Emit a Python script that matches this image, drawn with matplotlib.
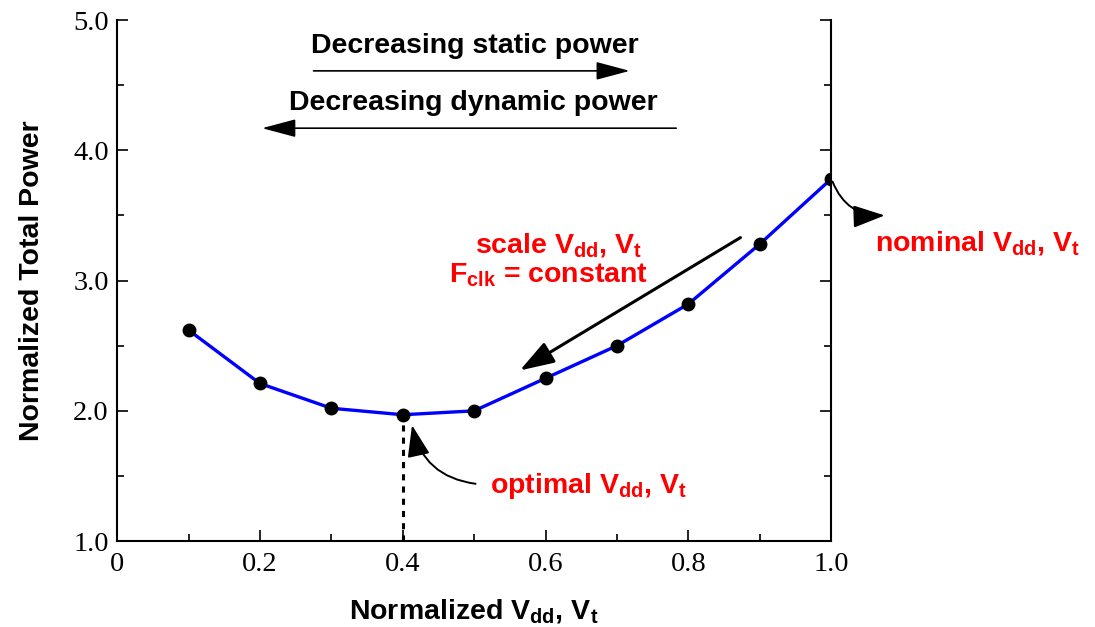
import matplotlib
matplotlib.use("Agg")
import matplotlib.pyplot as plt
from matplotlib.ticker import MultipleLocator

plt.rcParams['mathtext.fontset'] = 'custom'
plt.rcParams['mathtext.rm'] = 'Liberation Sans:bold'
plt.rcParams['mathtext.bf'] = 'Liberation Sans:bold'
plt.rcParams['mathtext.it'] = 'Liberation Sans:bold'
plt.rcParams['mathtext.default'] = 'bf'

vdd = [0.1, 0.2, 0.3, 0.4, 0.5, 0.6, 0.7, 0.8, 0.9, 1.0]
power = [2.62, 2.21, 2.02, 1.97, 2.00, 2.25, 2.50, 2.82, 3.28, 3.78]
xticks = [0, 0.2, 0.4, 0.6, 0.8, 1.0]
xticklabels = ['0', '0.2', '0.4', '0.6', '0.8', '1.0']
yticks = [1.0, 2.0, 3.0, 4.0, 5.0]
yticklabels = ['1.0', '2.0', '3.0', '4.0', '5.0']

FS = 20.5

fig = plt.figure(figsize=(10.95, 6.27), dpi=100)
ax = fig.add_axes([0.107, 0.137, 0.652, 0.831])

ax.plot(vdd, power, color='#0000ff', lw=2.4, zorder=2)
ax.plot(vdd, power, 'o', color='black', ms=9, zorder=3)

ax.set_xlim(0, 1.0)
ax.set_ylim(1.0, 5.0)
ax.set_xticks(xticks)
ax.set_xticklabels(xticklabels)
ax.set_yticks(yticks)
ax.set_yticklabels(yticklabels)
ax.xaxis.set_minor_locator(MultipleLocator(0.1))
ax.yaxis.set_minor_locator(MultipleLocator(0.5))
ax.tick_params(which='both', direction='in', right=True, top=False,
               labelsize=20.5, width=1.2)
ax.tick_params(which='major', length=8)
ax.tick_params(which='minor', length=5)
for lab in ax.get_xticklabels() + ax.get_yticklabels():
    lab.set_fontfamily('Liberation Serif')
ax.tick_params(axis='x', pad=8)
ax.tick_params(axis='y', pad=6)
ax.spines['top'].set_visible(False)
for s in ['left', 'bottom', 'right']:
    ax.spines[s].set_linewidth(1.5)

ax.set_xlabel(r'Normalized $V_{dd}$, $V_t$', fontsize=FS, fontweight='bold',
              family='Liberation Sans', labelpad=14)
ax.set_ylabel('Normalized Total Power', fontsize=FS, fontweight='bold',
              family='Liberation Sans', labelpad=20)

# dotted vertical at optimum
ax.plot([0.4, 0.4], [1.0, 1.97], color='black', lw=2.2, ls=(0, (2, 2)), zorder=1)

head = dict(color='black', shrinkA=0, shrinkB=0, mutation_scale=14)

# top arrows
ax.annotate('', xy=(0.718, 4.61), xytext=(0.275, 4.61),
            arrowprops=dict(arrowstyle='-|>,head_length=1.5,head_width=0.4', lw=1.2, **head))
ax.text(0.501, 4.80, 'Decreasing static power', fontsize=FS, fontweight='bold',
        family='Liberation Sans', ha='center', va='center')
ax.annotate('', xy=(0.203, 4.17), xytext=(0.783, 4.17),
            arrowprops=dict(arrowstyle='-|>,head_length=1.5,head_width=0.4', lw=1.2, **head))
ax.text(0.499, 4.36, 'Decreasing dynamic power', fontsize=FS, fontweight='bold',
        family='Liberation Sans', ha='center', va='center')

# scaling arrow
ax.annotate('', xy=(0.564, 2.31), xytext=(0.873, 3.33),
            arrowprops=dict(arrowstyle='-|>,head_length=1.5,head_width=0.5', lw=2.2, **head))
ax.text(0.618, 3.27, r'scale $V_{dd}$, $V_t$', fontsize=FS, color='#ff0000',
        fontweight='bold', family='Liberation Sans', ha='center', va='center')
ax.text(0.604, 3.04, r'$F_{clk}$ = constant', fontsize=FS, color='#ff0000',
        fontweight='bold', family='Liberation Sans', ha='center', va='center')

# nominal
ax.annotate('', xy=(1.075, 3.50), xytext=(1.002, 3.76),
            arrowprops=dict(arrowstyle='-|>,head_length=1.4,head_width=0.5', lw=1.4,
                            connectionstyle='arc3,rad=0.35', **head),
            annotation_clip=False)
ax.text(1.061, 3.29, r'nominal $V_{dd}$, $V_t$', fontsize=FS, color='#ff0000',
        fontweight='bold', family='Liberation Sans', ha='left', va='center',
        clip_on=False)

# optimal
ax.annotate('', xy=(0.413, 1.89), xytext=(0.502, 1.44),
            arrowprops=dict(arrowstyle='-|>,head_length=1.4,head_width=0.5', lw=1.4,
                            connectionstyle='arc3,rad=-0.35', **head))
ax.text(0.522, 1.42, r'optimal $V_{dd}$, $V_t$', fontsize=FS, color='#ff0000',
        fontweight='bold', family='Liberation Sans', ha='left', va='center')

fig.savefig('out.png', dpi=100)
